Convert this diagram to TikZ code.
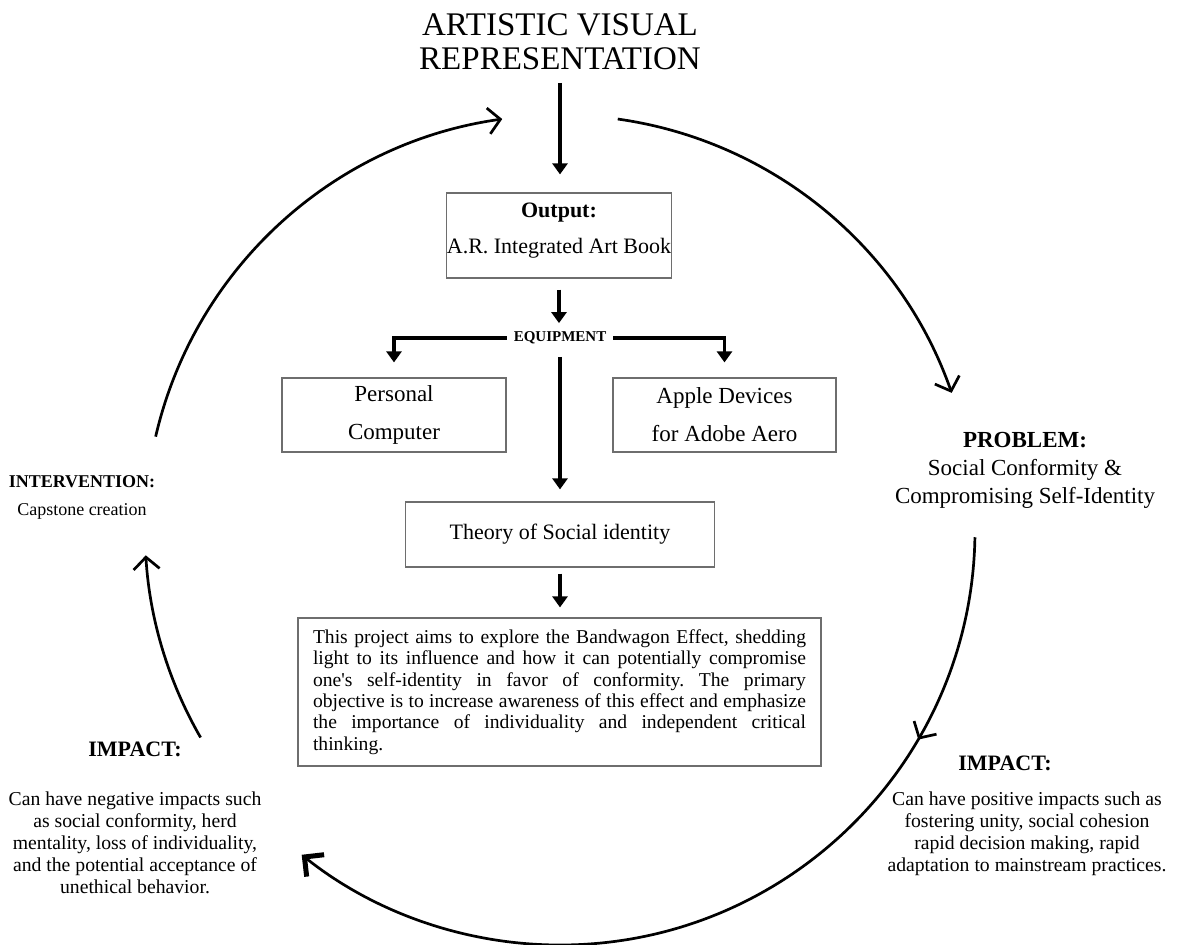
\documentclass[tikz,border=0pt]{standalone}
\usepackage{fontspec}
\setmainfont{Liberation Serif}
\usetikzlibrary{arrows.meta,positioning,decorations.markings}
\definecolor{ink}{HTML}{000000}
\definecolor{frame}{HTML}{6E6E6E}
\tikzset{box/.style={draw=frame,line width=1.2pt,align=center,inner sep=0pt,fill=white},arr/.style={-{Triangle[length=11pt,width=15pt]},line width=3.2pt,ink},cyc/.style={line width=2.7pt,ink},barb/.style={-{Straight Barb[length=12pt,width=26pt]}},head/.style={font=\fontsize{22}{26}\selectfont\bfseries},desc/.style={align=center,font=\fontsize{19.7}{22}\selectfont}}
\frenchspacing

\begin{document}
\begin{tikzpicture}[x=1pt,y=1pt]
\useasboundingbox (0,0) rectangle (1179,-945);
\node[anchor=north,align=center,inner sep=0pt,font=\fontsize{33}{34}\selectfont] (title) at (560,-13.8) {ARTISTIC VISUAL\\REPRESENTATION};
\node[box,minimum width=224pt,minimum height=85pt,text depth=14.5pt,font=\fontsize{22}{36.5}\selectfont] (output) at (559,-235.5) {\textbf{Output:}\\A.R. Integrated Art Book};
\node[inner xsep=7pt,inner ysep=0pt,font=\fontsize{15}{18}\selectfont\bfseries] (equip) at (560,-338) {EQUIPMENT};
\node[box,minimum width=224pt,minimum height=74pt,font=\fontsize{23}{38}\selectfont] (pc) at (394,-415) {Personal\\Computer};
\node[box,minimum width=223pt,minimum height=74pt,font=\fontsize{23}{38}\selectfont] (apple) at (724.5,-415) {Apple Devices\\for Adobe Aero};
\node[box,minimum width=309pt,minimum height=65pt,font=\fontsize{22}{26}\selectfont] (theory) at (560,-534.5) {Theory of Social identity};
\node[box,text width=493pt,inner xsep=15pt,minimum height=148pt,align=justify,font=\fontsize{19.6}{21.4}\selectfont] (aim) at (559.5,-692) {\hyphenpenalty=10000 This project aims to explore the Bandwagon Effect, shedding\linebreak light to its influence and how it can potentially compromise\linebreak one\textquotesingle s self-identity in favor of conformity. The primary\linebreak objective is to increase awareness of this effect and emphasize\linebreak the importance of individuality and independent critical\linebreak thinking.};
\node[align=center,font=\fontsize{18}{28}\selectfont] (interv) at (82,-497) {\textbf{INTERVENTION:}\\Capstone creation};
\node[align=center,font=\fontsize{23}{28}\selectfont] (problem) at (1025,-470) {\textbf{PROBLEM:}\\Social Conformity \&\\Compromising Self-Identity};
\node[head] (impL) at (135,-749.5) {IMPACT:};
\node[desc] (descL) at (135,-843) {Can have negative impacts such\\as social conformity, herd\\mentality, loss of individuality,\\and the potential acceptance of\\unethical behavior.};
\node[head] (impR) at (1005,-763) {IMPACT:};
\node[desc] (descR) at (1027,-834) {Can have positive impacts such as\\fostering unity, social cohesion\\rapid decision making, rapid\\adaptation to mainstream practices.};
\draw[arr,shorten <=12.5pt,shorten >=18pt] (title.south) -- (title.south |- output.north); \draw[arr,shorten <=11pt,shorten >=8.5pt] (output.south) -- (output.south |- equip.north);
\draw[arr,shorten >=15pt] (equip.west) -| (pc.north); \draw[arr,shorten >=15pt] (equip.east) -| (apple.north);
\draw[arr,shorten <=12.5pt,shorten >=12pt] (equip.south) -- (theory.north); \draw[arr,shorten <=6pt,shorten >=10pt] (theory.south) -- (theory.south |- aim.north);
\coordinate (ctr) at (560,-530);
\draw[cyc,barb] (ctr) ++(167:415) arc[start angle=167,end angle=98,radius=415];
\draw[cyc,barb] (ctr) ++(82:415) arc[start angle=82,end angle=19.3,radius=415];
\draw[cyc,-{Straight Barb[length=14pt,width=28pt,line width=5pt]},postaction={decorate},decoration={markings,mark=at position 0.23 with {\arrow{Straight Barb[length=12pt,width=26pt]}}}] (ctr) ++(-1:415) arc[start angle=-1,end angle=-128.5,radius=415];
\draw[cyc,barb] (ctr) ++(210:415) arc[start angle=210,end angle=183.5,radius=415];
\end{tikzpicture}
\end{document}
